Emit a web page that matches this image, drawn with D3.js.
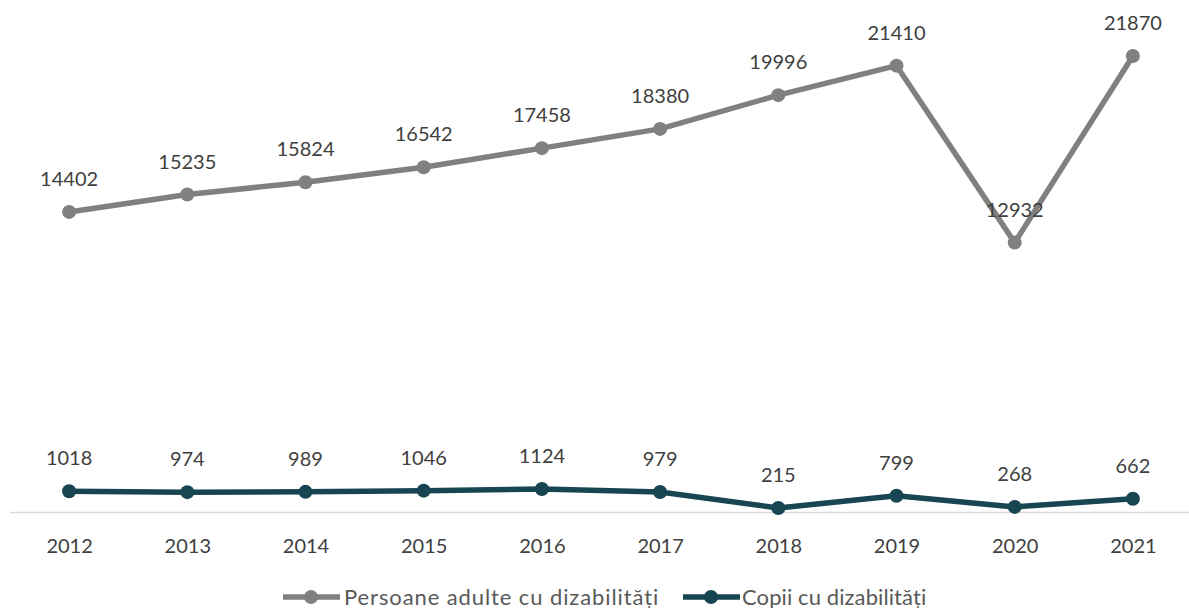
<!DOCTYPE html>
<html>
<head>
<meta charset="utf-8">
<script src="https://cdn.jsdelivr.net/npm/d3@7"></script>
<style>
  html, body { margin: 0; padding: 0; background: #fff; }
  svg text { font-family: Lato, "Open Sans", sans-serif; fill: #404040; }
</style>
</head>
<body>
<svg id="chart" width="1189" height="608"></svg>
<script>
const years = ["2012","2013","2014","2015","2016","2017","2018","2019","2020","2021"];
const adulti = [14402, 15235, 15824, 16542, 17458, 18380, 19996, 21410, 12932, 21870];
const copii = [1018, 974, 989, 1046, 1124, 979, 215, 799, 268, 662];
const seriesNames = ["Persoane adulte cu dizabilități", "Copii cu dizabilități"];
const seriesColors = ["#808080", "#174552"];

const svg = d3.select("#chart");

const x = d3.scalePoint().domain(years).range([10, 1192]).padding(0.5);
const y = d3.scaleLinear().domain([0, 24000]).range([512.5, 11.6]);

// category axis baseline
svg.append("line")
  .attr("x1", 10).attr("x2", 1189)
  .attr("y1", y(0)).attr("y2", y(0))
  .attr("stroke", "#d9d9d9").attr("stroke-width", 1.3);

const xAxis = d3.axisBottom(x).tickSize(0).tickPadding(0);
const gx = svg.append("g").attr("transform", `translate(0,${y(0)})`).call(xAxis);
gx.select(".domain").remove();
gx.selectAll("text")
  .attr("dy", null).attr("y", 40)
  .style("font-size", "20px")
  .style("font-family", "Lato, 'Open Sans', sans-serif")
  .attr("fill", "#595959");

const data = [adulti, copii];
const line = d3.line().x((d, i) => x(years[i])).y(d => y(d));

data.forEach((vals, s) => {
  const g = svg.append("g");
  g.append("path")
    .datum(vals)
    .attr("d", line)
    .attr("fill", "none")
    .attr("stroke", seriesColors[s])
    .attr("stroke-width", 5.5)
    .attr("stroke-linejoin", "round");
  g.selectAll("circle")
    .data(vals)
    .join("circle")
    .attr("cx", (d, i) => x(years[i]))
    .attr("cy", d => y(d))
    .attr("r", 7)
    .attr("fill", seriesColors[s]);
  g.selectAll("text.lbl")
    .data(vals)
    .join("text")
    .attr("class", "lbl")
    .attr("x", (d, i) => x(years[i]))
    .attr("y", d => y(d) - 26)
    .attr("text-anchor", "middle")
    .style("font-size", "20px")
    .text(d => d);
});

// legend
const legendItems = [
  { x0: 283, tx: 344, spacing: 0.9 },
  { x0: 683, tx: 742, spacing: 0.1 }
];
legendItems.forEach((it, s) => {
  const g = svg.append("g");
  const ly = 597;
  g.append("line")
    .attr("x1", it.x0).attr("x2", it.x0 + 57)
    .attr("y1", ly).attr("y2", ly)
    .attr("stroke", seriesColors[s]).attr("stroke-width", 5.5);
  g.append("circle")
    .attr("cx", it.x0 + 28).attr("cy", ly).attr("r", 7)
    .attr("fill", seriesColors[s]);
  g.append("text")
    .attr("x", it.tx).attr("y", ly + 7.5)
    .style("font-size", "22px")
    .style("letter-spacing", it.spacing + "px")
    .style("fill", "#595959")
    .text(seriesNames[s]);
});
</script>
</body>
</html>
